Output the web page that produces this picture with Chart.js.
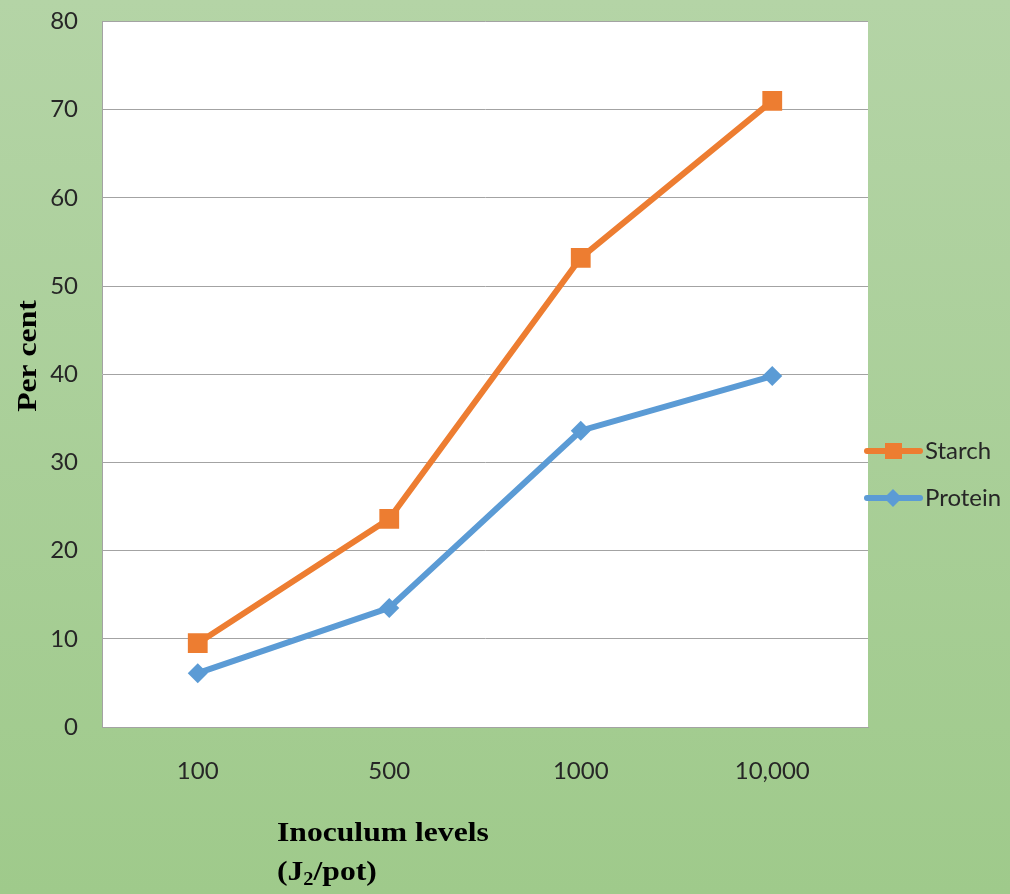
<!DOCTYPE html>
<html>
<head>
<meta charset="utf-8">
<style>
  html, body { margin: 0; padding: 0; background: #a8cf97; }
  canvas { display: block; }
</style>
<script src="https://cdn.jsdelivr.net/npm/chart.js@4/dist/chart.umd.min.js"></script>
</head>
<body>
<canvas id="c" width="1010" height="894"></canvas>
<script>
// Inoculum levels and the measured percentages
const levels = ['100', '500', '1000', '10,000'];
const starch = [9.5, 23.6, 53.2, 71.0];
const protein = [6.1, 13.5, 33.6, 39.8];
const yTicks = [0, 10, 20, 30, 40, 50, 60, 70, 80];

const tickFont = { family: 'Lato, "Open Sans", sans-serif', size: 24 };
const tickColor = '#262626';
const gridColor = '#a3a3a3';

// Green backdrop plus white plot area
const backdrop = {
  id: 'backdrop',
  beforeDraw(chart) {
    const { ctx, width, height, chartArea: a } = chart;
    ctx.save();
    const g = ctx.createLinearGradient(0, 0, 0, height);
    g.addColorStop(0, '#b4d4a6');
    g.addColorStop(1, '#9fca8b');
    ctx.fillStyle = g;
    ctx.fillRect(0, 0, width, height);
    ctx.fillStyle = '#ffffff';
    ctx.fillRect(a.left, a.top, a.right - a.left, a.bottom - a.top);
    ctx.restore();
  }
};

// Bold serif axis titles, the x title with a subscript
const axisTitles = {
  id: 'axisTitles',
  afterDraw(chart) {
    const { ctx } = chart;
    const serif = '"Liberation Serif", "Times New Roman", serif';
    const stretch = 1.13;
    ctx.save();
    ctx.fillStyle = '#000';
    ctx.textBaseline = 'middle';

    // y title
    ctx.save();
    ctx.translate(29, 356);
    ctx.rotate(-Math.PI / 2);
    ctx.scale(stretch, 1);
    ctx.font = 'bold 28px ' + serif;
    ctx.textAlign = 'center';
    ctx.fillText('Per cent', 0, 0);
    ctx.restore();

    // x title, first line
    ctx.save();
    ctx.translate(277, 834);
    ctx.scale(stretch, 1);
    ctx.font = 'bold 28px ' + serif;
    ctx.textAlign = 'left';
    ctx.fillText('Inoculum levels', 0, 0);
    ctx.restore();

    // x title, second line: (J2/pot) with subscript 2
    ctx.save();
    ctx.translate(277, 873);
    ctx.scale(stretch, 1);
    ctx.textAlign = 'left';
    let x = 0;
    ctx.font = 'bold 28px ' + serif;
    ctx.fillText('(J', x, 0);
    x += ctx.measureText('(J').width;
    ctx.font = 'bold 18px ' + serif;
    ctx.fillText('2', x, 7);
    x += ctx.measureText('2').width;
    ctx.font = 'bold 28px ' + serif;
    ctx.fillText('/pot)', x, 0);
    ctx.restore();

    ctx.restore();
  }
};

// Legend on the right: line sample with marker, then label
const sideLegend = {
  id: 'sideLegend',
  afterDraw(chart) {
    const { ctx } = chart;
    const rows = [451, 498];
    chart.data.datasets.forEach((ds, i) => {
      const y = rows[i];
      ctx.save();
      ctx.strokeStyle = ds.borderColor;
      ctx.lineWidth = 6;
      ctx.lineCap = 'round';
      ctx.beginPath();
      ctx.moveTo(867, y);
      ctx.lineTo(920, y);
      ctx.stroke();
      ctx.fillStyle = ds.borderColor;
      ctx.beginPath();
      if (ds.pointStyle === 'rect') {
        ctx.rect(885, y - 8, 17, 16);
      } else {
        ctx.moveTo(893, y - 9);
        ctx.lineTo(902, y);
        ctx.lineTo(893, y + 9);
        ctx.lineTo(884, y);
        ctx.closePath();
      }
      ctx.fill();
      ctx.fillStyle = tickColor;
      ctx.font = '24px ' + tickFont.family;
      ctx.textBaseline = 'middle';
      ctx.textAlign = 'left';
      ctx.fillText(ds.label, 925, y);
      ctx.restore();
    });
  }
};

new Chart(document.getElementById('c'), {
  type: 'line',
  data: {
    labels: levels,
    datasets: [
      {
        label: 'Starch',
        data: starch,
        borderColor: '#ed7d31',
        backgroundColor: '#ed7d31',
        borderWidth: 6,
        pointStyle: 'rect',
        pointRadius: 14,
        pointBorderWidth: 0,
        pointHoverRadius: 14,
        tension: 0
      },
      {
        label: 'Protein',
        data: protein,
        borderColor: '#5b9bd5',
        backgroundColor: '#5b9bd5',
        borderWidth: 6,
        pointStyle: 'rectRot',
        pointRadius: 10,
        pointBorderWidth: 0,
        pointHoverRadius: 10,
        tension: 0
      }
    ]
  },
  options: {
    responsive: false,
    animation: false,
    events: [],
    layout: { autoPadding: false, padding: { top: 21.5, right: 142, left: 0, bottom: 0 } },
    plugins: {
      legend: { display: false },
      tooltip: { enabled: false },
      title: { display: false }
    },
    scales: {
      x: {
        offset: true,
        afterFit(s) { s.height = 167; s.paddingLeft = 0; s.paddingRight = 0; },
        grid: { display: false, drawTicks: false },
        border: { display: true, color: gridColor, width: 1 },
        ticks: { font: tickFont, color: tickColor, padding: 30, maxRotation: 0 }
      },
      y: {
        min: 0,
        max: 80,
        afterFit(s) { s.width = 102; s.paddingTop = 0; s.paddingBottom = 0; },
        afterBuildTicks(s) { s.ticks = yTicks.map(v => ({ value: v })); },
        grid: { color: gridColor, lineWidth: 1, drawTicks: false },
        border: { display: true, color: gridColor, width: 1 },
        ticks: { font: tickFont, color: tickColor, padding: 24 }
      }
    }
  },
  plugins: [backdrop, axisTitles, sideLegend]
});
</script>
</body>
</html>
